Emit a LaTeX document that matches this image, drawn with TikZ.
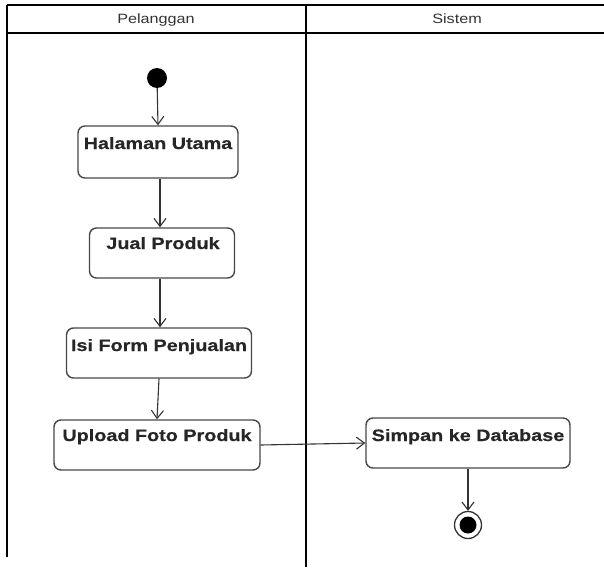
\documentclass[tikz,border=0pt]{standalone}
\usepackage{fontspec}
\setmainfont{Liberation Sans}
\newfontfamily\actfont[FakeStretch=1.2,FakeBold=0.4]{Liberation Sans Bold}
\newfontfamily\headfont[FakeStretch=1.2]{Liberation Sans}
\usetikzlibrary{arrows.meta}
\begin{document}
\begin{tikzpicture}[x=1pt,y=-1pt,
  lane/.style={line width=2.2pt,black},
  act/.style={draw=black!72,line width=1.4pt,rounded corners=7pt,fill=white,inner sep=0pt},
  label/.style={anchor=base,inner sep=0pt,font=\actfont\fontsize{16.5pt}{18pt}\selectfont,text=black!85},
  flow/.style={draw=black!80,line width=1.1pt,-{Straight Barb[length=8pt,width=12pt,line width=1.1pt]}},
  lanehead/.style={anchor=base,inner sep=0pt,font=\headfont\fontsize{13.5pt}{15pt}\selectfont,text=black!80}]
\useasboundingbox (0,0) rectangle (604,567);
% swimlane frame
\draw[lane] (7,5) -- (604,5);
\draw[lane] (7,33) -- (604,33);
\draw[line width=1.6pt] (7,5) -- (7,557);
\draw[lane] (306,5) -- (306,567);
\node[lanehead] (h1) at (156,24) {Pelanggan};
\node[lanehead] (h2) at (457,24) {Sistem};
% activities
\node[circle,fill=black,minimum size=20pt,inner sep=0pt] (start) at (157,78) {};
\node[act,minimum width=160pt,minimum height=52pt] (a1) at (158,152) {};
\node[act,minimum width=145pt,minimum height=50pt] (a2) at (162,253) {};
\node[act,minimum width=185pt,minimum height=50pt] (a3) at (159,353) {};
\node[act,minimum width=206pt,minimum height=50pt] (a4) at (157,445) {};
\node[act,minimum width=204pt,minimum height=50pt] (a5) at (468,443) {};
\node[label] (t1) at (158,149) {Halaman Utama};
\node[label] (t2) at (163,249) {Jual Produk};
\node[label] (t3) at (159,351) {Isi Form Penjualan};
\node[label] (t4) at (157,441) {Upload Foto Produk};
\node[label] (t5) at (468,441) {Simpan ke Database};
\node[circle,draw=black!80,line width=1.3pt,fill=white,minimum size=27pt,inner sep=0pt] (end) at (468,525) {};
\node[circle,fill=black,minimum size=17pt,inner sep=0pt] (endc) at (468,525) {};
% flows
\draw[flow] (start) -- (a1.north);
\draw[flow] (a1.south -| 160,0) -- (a2.north -| 160,0);
\draw[flow] (a2.south -| 160,0) -- (a3.north -| 160,0);
\draw[flow] (a3.south) -- (a4.north);
\draw[flow] (a4.east) -- (a5.west);
\draw[flow] (a5.south) -- (end.north);
\end{tikzpicture}
\end{document}
